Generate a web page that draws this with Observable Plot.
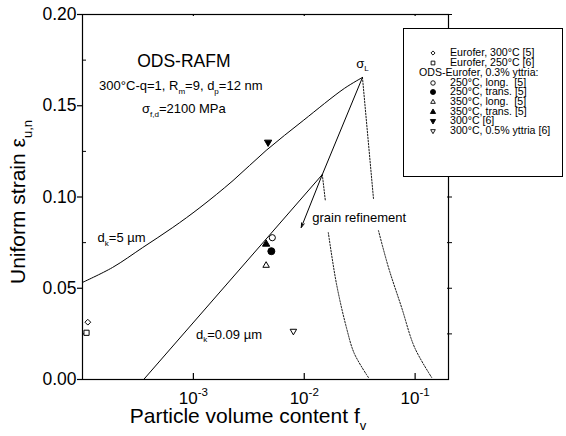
<!DOCTYPE html>
<html><head><meta charset="utf-8">
<script src="https://cdn.jsdelivr.net/npm/d3@7"></script>
<script src="https://cdn.jsdelivr.net/npm/@observablehq/plot@0.6"></script>
<style>
html,body{margin:0;padding:0;background:#fff;}
#wrap{position:relative;width:566px;height:436px;overflow:hidden;font-family:"Liberation Sans",Arial,sans-serif;}
#legend{position:absolute;left:403px;top:28px;width:160px;height:149px;box-sizing:border-box;border:1px solid #000;background:#fff;padding-top:19.4px;font-size:10.6px;color:#000;}
.row{position:relative;height:9.72px;line-height:9.72px;white-space:pre;}
.row svg{position:absolute;left:24px;top:0px;}
.row span{position:absolute;left:46px;top:0;}
.row.head span{left:15px;}
</style></head><body><div id="wrap"></div>
<script>
// ---------- data ----------
const xTicks = [1e-3, 1e-2, 1e-1];
const xTickLabels = ["10^{-3}", "10^{-2}", "10^{-1}"];
const yTicks = [0, 0.05, 0.10, 0.15, 0.20];
const yMinorTicks = [0.025, 0.075, 0.125, 0.175];
const yRightTicks = [0.025, 0.05, 0.075, 0.10, 0.125, 0.15, 0.175, 0.20];

// d_k = 5 µm curve
const coarseFv  = [1e-4, 1.868e-4, 3.49e-4, 6.52e-4, 1.146e-3, 2.278e-3, 4.53e-3, 9.79e-3, 2.30e-2, 3.35e-2];
const coarseEps = [0.0532, 0.0614, 0.0723, 0.0833, 0.0942, 0.1090, 0.1255, 0.1419, 0.1595, 0.1655];
// d_k = 0.09 µm curve (up to kink, then to sigma_L)
const fineFv  = [3.565e-4, 1.455e-2, 3.35e-2];
const fineEps = [0, 0.1123, 0.1655];
// dotted limit curves (NaN = gap at label)
const lim1Fv  = [1.455e-2, 1.549e-2, NaN, 1.648e-2, 1.95e-2, 2.40e-2, 2.83e-2, 3.79e-2];
const lim1Eps = [0.1123, 0.0981, NaN, 0.0805, 0.0526, 0.0285, 0.0142, 0.0011];
const lim2Fv  = [3.35e-2, 4.21e-2, NaN, 4.67e-2, 5.75e-2, 7.55e-2, 9.9e-2, 0.141];
const lim2Eps = [0.1655, 0.0992, NaN, 0.0816, 0.0614, 0.0395, 0.0175, 0.0011];
// grain refinement arrow
const arrowFv  = [1.455e-2, 9.4e-3];
const arrowEps = [0.1123, 0.0833];

// measured points
const seriesNames = ["Eurofer, 300°C [5]", "Eurofer, 250°C [6]", "250°C, long.  [5]", "250°C, trans. [5]",
                     "350°C, long.  [5]", "350°C, trans. [5]", "300°C [6]", "300°C, 0.5% yttria [6]"];
const seriesFv  = [1.117e-4, 1.087e-4, 5.15e-3, 5.05e-3, 4.53e-3, 4.53e-3, 4.72e-3, 7.98e-3];
const seriesEps = [0.0314, 0.0256, 0.0777, 0.0703, 0.0625, 0.0742, 0.1300, 0.0265];
const legendHeader = "ODS-Eurofer, 0.3% yttria:";

// annotations
const noteTexts = ["ODS-RAFM", "300°C-q=1, R_{m}=9, d_{p}=12 nm", "σ_{f,d}=2100 MPa", "σ_{L}",
                   "d_{k}=5 µm", "d_{k}=0.09 µm", "grain refinement"];
const noteFv  = [8.2e-4, 7.71e-4, 8.2e-4, 3.35e-2, 1.367e-4, 1.054e-3, 1.18e-2];
const noteEps = [0.1742, 0.1608, 0.1482, 0.1732, 0.0775, 0.0247, 0.0888];

const xTitle = "Particle volume content f_{v}";
const yTitle = "Uniform strain ε_{u,n}";

// ---------- styles ----------
const markerStyles = [
  {symbol: "diamond2", fill: "white", r: 2.6, rotate: 0},
  {symbol: "square2", fill: "white", r: 3.3, rotate: 0},
  {symbol: "circle", fill: "white", r: 3.1, rotate: 0},
  {symbol: "circle", fill: "black", r: 3.5, rotate: 0},
  {symbol: "triangle", fill: "white", r: 2.4, rotate: 0},
  {symbol: "triangle", fill: "black", r: 2.7, rotate: 0},
  {symbol: "triangle", fill: "black", r: 2.7, rotate: 180},
  {symbol: "triangle", fill: "white", r: 2.4, rotate: 180}
];
const noteStyles = [
  {fontSize: 17.5, anchor: "middle"}, {fontSize: 13, anchor: "middle"}, {fontSize: 13, anchor: "middle"},
  {fontSize: 13, anchor: "middle"}, {fontSize: 13, anchor: "start"}, {fontSize: 13, anchor: "start"},
  {fontSize: 13, anchor: "start"}
];

// ---------- build ----------
const W = 566, H = 436, mL = 82, mR = 118, mT = 14, mB = 57;
const pW = W - mL - mR, pH = H - mT - mB;
const zip = (a, b) => a.map((v, i) => ({fv: v, eps: b[i]}));
const points = seriesNames.map((n, i) => ({name: n, fv: seriesFv[i], eps: seriesEps[i]}));
const notes = noteTexts.map((t, i) => ({text: t, fv: noteFv[i], eps: noteEps[i]}));
const xLabelMap = new Map(xTicks.map((t, i) => [t, xTickLabels[i]]));
const arrowRow = [{x1: arrowFv[0], y1: arrowEps[0], x2: arrowFv[1], y2: arrowEps[1]}];

const marks = [
  Plot.frame({stroke: "black", strokeWidth: 1.2}),
  Plot.axisY({ticks: yTicks, tickSize: 5, tickPadding: 1, tickFormat: d3.format(".2f"), fontSize: 17.5, label: null, stroke: "black", strokeWidth: 1.2}),
  Plot.axisX({ticks: xTicks, tickSize: 0, tickPadding: 12, tickFormat: d => xLabelMap.get(d), fontSize: 17, label: null}),
  Plot.tickX(xTicks, {x: d => d, insetTop: pH - 6, stroke: "black", strokeWidth: 1.2}),
  Plot.tickX(xTicks, {x: d => d, insetBottom: pH - 2, stroke: "black", strokeWidth: 1.2}),
  Plot.tickY(yMinorTicks, {y: d => d, insetRight: pW - 4, stroke: "black", strokeWidth: 1}),
  Plot.tickY(yRightTicks, {y: d => d, insetLeft: pW - 1, insetRight: -4, stroke: "black", strokeWidth: 1}),
  Plot.line(zip(coarseFv, coarseEps), {x: "fv", y: "eps", stroke: "black", strokeWidth: 1, curve: "catmull-rom"}),
  Plot.line(zip(fineFv, fineEps), {x: "fv", y: "eps", stroke: "black", strokeWidth: 1}),
  Plot.line(zip(lim1Fv, lim1Eps), {x: "fv", y: "eps", stroke: "black", strokeWidth: 0.9, strokeDasharray: "1.5,1.5", curve: "catmull-rom"}),
  Plot.line(zip(lim2Fv, lim2Eps), {x: "fv", y: "eps", stroke: "black", strokeWidth: 0.9, strokeDasharray: "1.5,1.5", curve: "catmull-rom"}),
  Plot.arrow(arrowRow, {x1: "x1", y1: "y1", x2: "x2", y2: "y2", stroke: "black", strokeWidth: 1, headLength: 7, headAngle: 35}),
  ...points.map((p, i) => {
    const s = markerStyles[i];
    return Plot.dot([p], {x: "fv", y: "eps", symbol: s.symbol, r: s.r, fill: s.fill, stroke: "black", strokeWidth: 1, rotate: s.rotate});
  }),
  ...notes.map((n, i) => Plot.text([n], {x: "fv", y: "eps", text: "text", fontSize: noteStyles[i].fontSize, textAnchor: noteStyles[i].anchor, lineAnchor: "middle", fill: "black"})),
  Plot.text([xTitle], {frameAnchor: "bottom", textAnchor: "middle", lineAnchor: "middle", dx: -17.5, dy: 37, fontSize: 21, fill: "black"}),
  Plot.text([yTitle], {frameAnchor: "left", textAnchor: "middle", lineAnchor: "middle", rotate: -90, dx: -64, dy: 5, fontSize: 21, fill: "black"})
];

const chart = Plot.plot({
  width: W, height: H, marginLeft: mL, marginRight: mR, marginTop: mT, marginBottom: mB,
  style: {fontFamily: '"Liberation Sans", Arial, sans-serif', background: "white", color: "black", overflow: "visible"},
  x: {type: "log", domain: [1e-4, 0.2]},
  y: {domain: [0, 0.2]},
  marks
});
const wrap = document.getElementById("wrap");
wrap.appendChild(chart);

// sub/superscript markup -> tspans
function richify(el) {
  const s = el.textContent;
  if (!/[_^]\{/.test(s)) return;
  const fs = parseFloat(getComputedStyle(el).fontSize) || 13;
  const parts = s.split(/([_^]\{[^}]*\})/).filter(p => p.length);
  while (el.firstChild) el.removeChild(el.firstChild);
  let shift = 0;
  for (const p of parts) {
    const t = document.createElementNS("http://www.w3.org/2000/svg", "tspan");
    let target = 0, txt = p;
    if (p.startsWith("_{")) { target = fs * 0.3; txt = p.slice(2, -1); t.setAttribute("font-size", fs * 0.62); }
    else if (p.startsWith("^{")) { target = -fs * 0.42; txt = p.slice(2, -1); t.setAttribute("font-size", fs * 0.68); }
    if (target !== shift) t.setAttribute("dy", target - shift);
    shift = target;
    t.textContent = txt;
    el.appendChild(t);
  }
}
chart.querySelectorAll("text").forEach(richify);

// legend (HTML overlay)
const legend = document.createElement("div");
legend.id = "legend";
const rows = [
  ...seriesNames.slice(0, 2).map((n, i) => ({name: n, style: markerStyles[i]})),
  {name: legendHeader, header: true},
  ...seriesNames.slice(2).map((n, i) => ({name: n, style: markerStyles[i + 2]}))
];
const symMap = {diamond2: d3.symbolDiamond2, square2: d3.symbolSquare2, circle: d3.symbolCircle, triangle: d3.symbolTriangle};
for (const r of rows) {
  const div = document.createElement("div");
  div.className = "row" + (r.header ? " head" : "");
  if (!r.header) {
    const s = r.style, rr = s.r * 0.72;
    const svg = d3.create("svg").attr("width", 10).attr("height", 10).style("overflow", "visible");
    svg.append("path")
      .attr("d", d3.symbol(symMap[s.symbol], Math.PI * rr * rr)())
      .attr("transform", `translate(5,5) rotate(${s.rotate})`)
      .attr("fill", s.fill).attr("stroke", "black").attr("stroke-width", 0.9);
    div.appendChild(svg.node());
  }
  const sp = document.createElement("span");
  sp.textContent = r.name;
  div.appendChild(sp);
  legend.appendChild(div);
}
wrap.appendChild(legend);
</script>
</body></html>
